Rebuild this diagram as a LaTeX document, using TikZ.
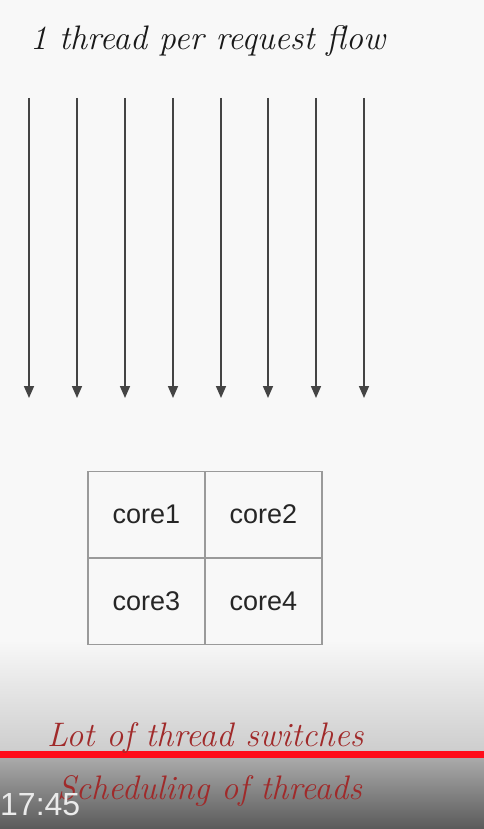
\documentclass[tikz,border=0pt]{standalone}
\usepackage{fontspec}
\setsansfont{Liberation Sans}
\newfontfamily\hand{Latin Modern Roman}
\usetikzlibrary{arrows.meta}
\definecolor{bg}{HTML}{F8F8F8}
\definecolor{arrowgray}{HTML}{444444}
\definecolor{gridgray}{HTML}{9A9A9A}
\definecolor{handred}{HTML}{A02A2A}
\definecolor{barred}{HTML}{FF0D1A}
\tikzset{
  flow/.style={draw=arrowgray, line width=1.6pt, -{Triangle[length=12pt,width=10pt]}},
  cell/.style={draw=gridgray, line width=1.5pt, minimum width=117pt, minimum height=86.5pt, inner sep=0pt, font=\sffamily\fontsize{27}{27}\selectfont, text=black!85},
  handtxt/.style={font=\hand\itshape\fontsize{34}{34}\selectfont, anchor=base west, inner sep=0pt}
}
\begin{document}
\begin{tikzpicture}[x=1pt,y=-1pt]
\useasboundingbox (0,0) rectangle (484,829);
\fill[bg] (0,0) rectangle (484,829);
% bottom overlay gradients
\shade[top color=bg, bottom color={rgb,255:red,205;green,205;blue,205}] (0,640) rectangle (484,752);
\shade[top color={rgb,255:red,170;green,170;blue,170}, bottom color={rgb,255:red,90;green,90;blue,90}] (0,758) rectangle (484,829);
% title
\node[handtxt, text=black!90] (title) at (30,50) {1 thread per request flow};
% arrows
\foreach \i/\x in {1/29,2/77,3/125,4/173,5/221,6/268,7/316,8/364}{
  \coordinate (s\i) at (\x,98);
  \coordinate (e\i) at (\x,398);
  \draw[flow] (s\i) -- (e\i);
}
% cores grid
\node[cell] (c1) at (146.5,514.5) {\raisebox{-2pt}{core1}};
\node[cell] (c2) at (263.5,514.5) {\raisebox{-2pt}{core2}};
\node[cell] (c3) at (146.5,601) {\raisebox{-2pt}{core3}};
\node[cell] (c4) at (263.5,601) {\raisebox{-2pt}{core4}};
% red bar
\fill[barred] (0,751) rectangle (484,758);
% red notes
\node[handtxt, text=handred] (note1) at (47,746) {Lot of thread switches};
\node[handtxt, text=handred] (note2) at (57,799) {Scheduling of threads};
% timestamp
\node[font=\sffamily\fontsize{32}{32}\selectfont, text=white!92!black, anchor=base west, inner sep=0pt] (time) at (0,815) {17:45};
\end{tikzpicture}
\end{document}
